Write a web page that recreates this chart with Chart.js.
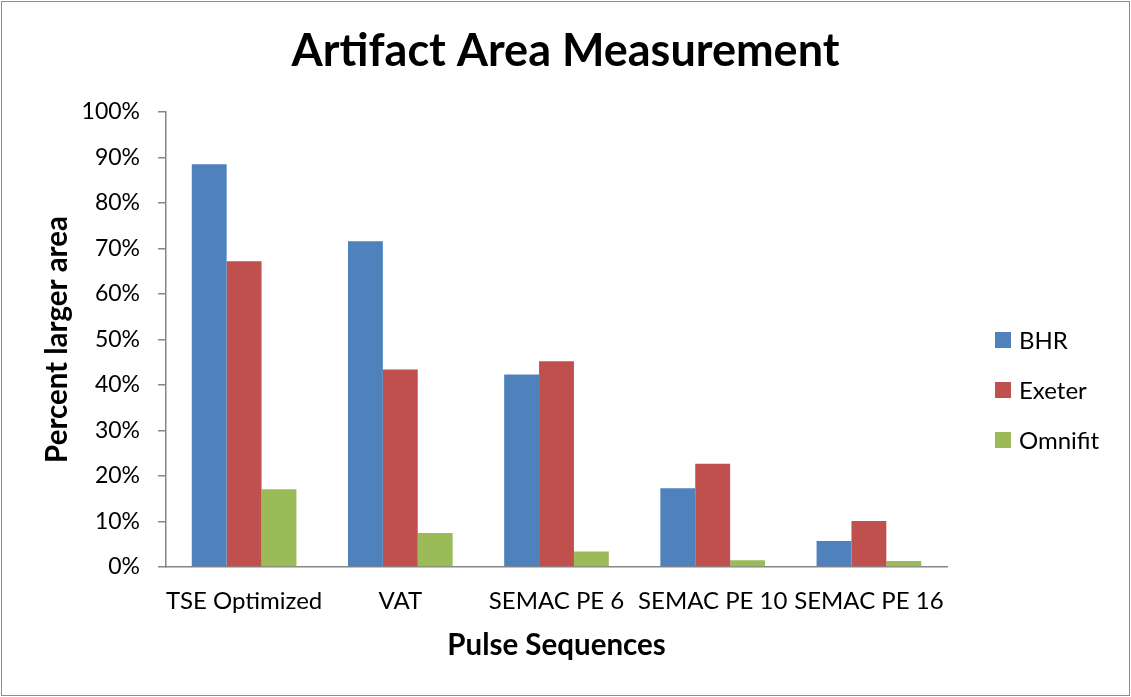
<!DOCTYPE html>
<html>
<head>
<meta charset="utf-8">
<script src="https://cdn.jsdelivr.net/npm/chart.js@4.4.1/dist/chart.umd.min.js"></script>
<style>
  html, body { margin: 0; padding: 0; background: #fff; }
  #wrap { width: 1131px; height: 697px; position: relative; }
</style>
</head>
<body>
<div id="wrap"><canvas id="chart" width="1131" height="697"></canvas></div>
<script>
// chart data
const chartTitle = 'Artifact Area Measurement';
const categories = ['TSE Optimized', 'VAT', 'SEMAC PE 6', 'SEMAC PE 10', 'SEMAC PE 16'];
const seriesNames = ['BHR', 'Exeter', 'Omnifit'];
const bhr = [0.885, 0.716, 0.423, 0.173, 0.057];
const exeter = [0.672, 0.434, 0.452, 0.227, 0.101];
const omnifit = [0.171, 0.075, 0.034, 0.015, 0.013];
const colors = ['#4f81bd', '#c0504d', '#9bbb59'];
const yTicks = [0, 0.1, 0.2, 0.3, 0.4, 0.5, 0.6, 0.7, 0.8, 0.9, 1];

const FONT = 'Lato, "Open Sans", sans-serif';
const axisGray = '#868686';

// outer frame + title centred on the whole canvas (like the office chart)
const framePlugin = {
  id: 'frame',
  beforeDraw: (chart) => {
    const { ctx, width, height } = chart;
    ctx.save();
    ctx.fillStyle = '#fff';
    ctx.fillRect(0, 0, width, height);
    ctx.strokeStyle = '#8e8e8e';
    ctx.lineWidth = 1;
    ctx.strokeRect(1.5, 1.5, width - 3, height - 3);
    ctx.fillStyle = '#000';
    ctx.font = `bold 45px ${FONT}`;
    ctx.textAlign = 'center';
    ctx.textBaseline = 'middle';
    ctx.fillText(chartTitle, width / 2, 51);
    ctx.restore();
  },
};

// legend on the right, drawn from the datasets
const sideLegend = {
  id: 'sideLegend',
  afterDraw: (chart) => {
    const { ctx } = chart;
    ctx.save();
    ctx.font = `24px ${FONT}`;
    ctx.textBaseline = 'middle';
    ctx.textAlign = 'left';
    chart.data.datasets.forEach((ds, i) => {
      const cy = 340 + i * 50;
      ctx.fillStyle = ds.backgroundColor;
      ctx.fillRect(995, cy - 8, 16, 16);
      ctx.fillStyle = '#000';
      ctx.fillText(ds.label, 1019, cy + 1);
    });
    ctx.restore();
  },
};

const datasets = [bhr, exeter, omnifit].map((values, i) => ({
  label: seriesNames[i],
  data: values,
  backgroundColor: colors[i],
  borderWidth: 0,
  categoryPercentage: 0.67,
  barPercentage: 1,
}));

new Chart(document.getElementById('chart'), {
  type: 'bar',
  data: { labels: categories, datasets },
  plugins: [framePlugin, sideLegend],
  options: {
    responsive: false,
    animation: false,
    layout: { padding: { left: 36, right: 184, top: 112, bottom: 30 } },
    plugins: {
      legend: { display: false },
      tooltip: { enabled: false },
      title: { display: false },
    },
    scales: {
      x: {
        grid: { display: false, drawTicks: false },
        border: { color: axisGray, width: 1.5 },
        ticks: {
          color: '#000',
          font: { family: FONT, size: 24 },
          padding: 20,
          maxRotation: 0,
          autoSkip: false,
        },
        title: {
          display: true,
          text: 'Pulse Sequences',
          color: '#000',
          font: { family: FONT, size: 29.5, weight: 'bold' },
          padding: { top: 4, bottom: 4 },
        },
        afterFit: (scale) => { scale.height = 100; },
      },
      y: {
        min: 0,
        max: 1,
        grid: { drawOnChartArea: false, drawTicks: true, tickLength: 8, color: axisGray, lineWidth: 1.5 },
        border: { color: axisGray, width: 1.5 },
        afterBuildTicks: (scale) => { scale.ticks = yTicks.map((v) => ({ value: v })); },
        ticks: {
          color: '#000',
          font: { family: FONT, size: 23 },
          padding: 18,
          callback: (v) => `${Math.round(v * 100)}%`,
        },
        title: {
          display: true,
          text: 'Percent larger area',
          color: '#000',
          font: { family: FONT, size: 29.5, weight: 'bold' },
          padding: { top: 4, bottom: 4 },
        },
        afterFit: (scale) => { scale.width = 130; },
      },
    },
  },
});
</script>
</body>
</html>
